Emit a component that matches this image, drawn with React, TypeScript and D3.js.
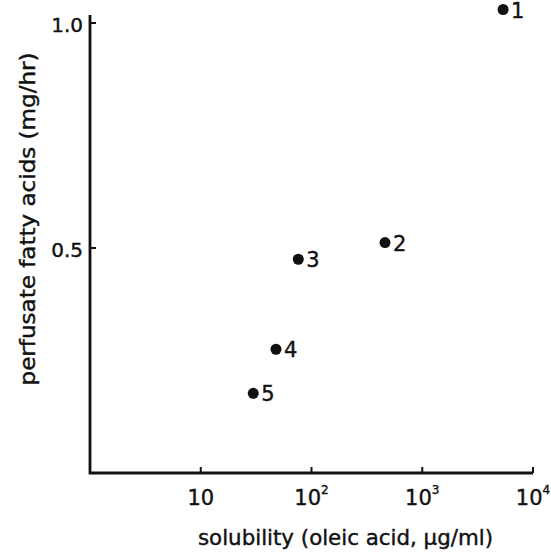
import React from 'react';
import * as d3 from 'd3';

// data
const labels = ['1', '2', '3', '4', '5'];
const solubility = [5370, 461, 76, 47.8, 29.8];
const fattyAcids = [1.03, 0.512, 0.475, 0.275, 0.177];
const xTicks = [10, 100, 1000, 10000];
const xTickExp = ['', '2', '3', '4'];
const yTicks = [0.5, 1.0];
const yTickLabels = ['0.5', '1.0'];

const width = 551;
const height = 554;
const font = "'DejaVu Sans', sans-serif";
const ink = '#111';

const App = () => {
    const x = d3.scaleLog().domain([1, 10000]).range([90, 533]);
    const y = d3.scaleLinear().domain([0, 1]).range([473, 23]);
    const yTop = y(1.018);

    return (
        <svg
            width={width}
            height={height}
            style={{ position: 'absolute', left: 0, top: 0, background: '#fff' }}
            fontFamily={font}
            fill={ink}
        >
            {/* axes */}
            <path
                d={`M${x(1)},${yTop}V${y(0)}H${x(10000)}`}
                fill="none"
                stroke={ink}
                strokeWidth={2.8}
            />
            {yTicks.map((t, i) => (
                <g key={'y' + i}>
                    <line x1={x(1)} x2={x(1) + 6} y1={y(t)} y2={y(t)} stroke={ink} strokeWidth={2} />
                    <text x={83} y={y(t) + 2} textAnchor="end" dominantBaseline="central"
                        fontSize={20} stroke={ink} strokeWidth={0.4}>
                        {yTickLabels[i]}
                    </text>
                </g>
            ))}
            {xTicks.map((t, i) => (
                <g key={'x' + i}>
                    <line x1={x(t)} x2={x(t)} y1={y(0)} y2={y(0) - 6} stroke={ink} strokeWidth={2} />
                    <text x={x(t)} y={505} textAnchor="middle" fontSize={21} stroke={ink} strokeWidth={0.4}>
                        10
                        {xTickExp[i] && (
                            <tspan dy={-11} fontSize={12}>{xTickExp[i]}</tspan>
                        )}
                    </text>
                </g>
            ))}

            {/* points */}
            {labels.map((l, i) => (
                <g key={'p' + i}>
                    <circle cx={x(solubility[i])} cy={y(fattyAcids[i])} r={5.5} />
                    <text
                        x={x(solubility[i]) + 8}
                        y={y(fattyAcids[i]) + 1}
                        dominantBaseline="central"
                        fontSize={21}
                        stroke={ink}
                        strokeWidth={0.4}
                    >
                        {l}
                    </text>
                </g>
            ))}

            {/* titles */}
            <text x={345.5} y={545} textAnchor="middle" fontSize={21}
                textLength={295} lengthAdjust="spacingAndGlyphs" stroke={ink} strokeWidth={0.4}>
                solubility (oleic acid, μg/ml)
            </text>
            <text
                transform={`translate(28,219) rotate(-90)`}
                textAnchor="middle"
                dominantBaseline="central"
                fontSize={21}
                textLength={333}
                lengthAdjust="spacingAndGlyphs"
                stroke={ink}
                strokeWidth={0.4}
            >
                perfusate  fatty acids (mg/hr)
            </text>
        </svg>
    );
};

export default App;
